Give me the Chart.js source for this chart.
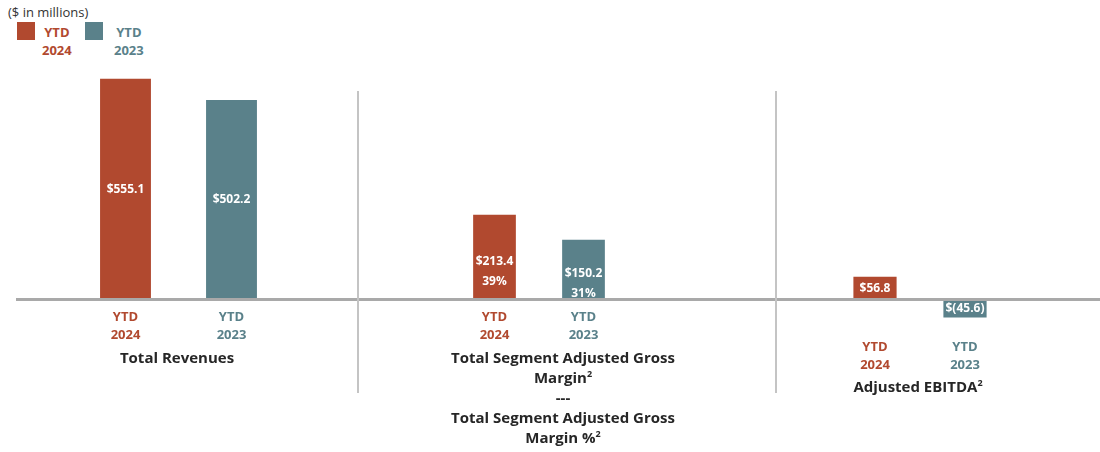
<!DOCTYPE html>
<html>
<head>
<meta charset="utf-8">
<script src="https://cdn.jsdelivr.net/npm/chart.js@4.4.1/dist/chart.umd.min.js"></script>
<style>
  body { margin: 0; background: #fff; font-family: "Open Sans", sans-serif; }
  #wrap { position: relative; width: 1100px; height: 452px; overflow: hidden; }
  .panel { position: absolute; top: 0; height: 452px; }
  .title { position: absolute; color: #262626; font-weight: bold; font-size: 15px; line-height: 20px; text-align: center; white-space: nowrap; transform: translateX(-50%); }
  .title sup { font-size: 9px; vertical-align: 6px; line-height: 0; }
  #units { position: absolute; left: 8px; top: 3px; font-size: 13px; color: #333; }
  .key { position: absolute; top: 22px; width: 18px; height: 18px; }
  .keytext { position: absolute; top: 23px; font-size: 13px; font-weight: bold; line-height: 18px; text-align: center; }
</style>
</head>
<body>
<div id="wrap">
  <div id="units">($ in millions)</div>
  <div class="key" style="left:17px;background:#b1492f"></div>
  <div class="keytext" style="left:42px;color:#b1492f">YTD<br>2024</div>
  <div class="key" style="left:85px;background:#5a818a"></div>
  <div class="keytext" style="left:114px;color:#5a818a">YTD<br>2023</div>

  <div class="panel" style="left:0;width:357px"><canvas id="c1" width="357" height="452"></canvas></div>
  <div class="panel" style="left:357px;width:418px"><canvas id="c2" width="418" height="452"></canvas></div>
  <div class="panel" style="left:775px;width:325px"><canvas id="c3" width="325" height="452"></canvas></div>

  <div class="title" style="left:177px;top:347px">Total Revenues</div>
  <div class="title" style="left:563px;top:347px">Total Segment Adjusted Gross<br>Margin<sup>2</sup><br>---<br>Total Segment Adjusted Gross<br>Margin %<sup>2</sup></div>
  <div class="title" style="left:918px;top:376px">Adjusted EBITDA<sup>2</sup></div>
</div>
<script>
const categories = [['YTD', '2024'], ['YTD', '2023']];
const colors = ['#b1492f', '#5a818a'];
const revenues = [555.1, 502.2];
const grossMargin = [213.4, 150.2];
const marginPct = [39, 31];
const ebitda = [56.8, -45.6];

const money = v => v < 0 ? '$(' + Math.abs(v).toFixed(1) + ')' : '$' + v.toFixed(1);

// zero line, separator and labels inside the bars
const panelDeco = {
  id: 'panelDeco',
  afterDatasetsDraw(chart, args, opts) {
    const ctx = chart.ctx;
    const y0 = chart.scales.y.getPixelForValue(0);
    ctx.save();
    ctx.strokeStyle = '#a9a9a9';
    ctx.lineWidth = 3;
    ctx.beginPath();
    ctx.moveTo(opts.lineStart || 0, y0);
    ctx.lineTo(chart.width, y0);
    ctx.stroke();
    if (opts.separator) {
      ctx.strokeStyle = '#c4c4c4';
      ctx.lineWidth = 2;
      ctx.beginPath();
      ctx.moveTo(1, 91);
      ctx.lineTo(1, 393);
      ctx.stroke();
    }
    const meta = chart.getDatasetMeta(0);
    ctx.fillStyle = '#fff';
    ctx.font = 'bold 12px "Open Sans"';
    ctx.textAlign = 'center';
    ctx.textBaseline = 'middle';
    meta.data.forEach((bar, i) => {
      const lines = opts.labels(i);
      const mid = (bar.y + bar.base) / 2 + (opts.shift || 0);
      const lh = opts.lineGap || 20;
      lines.forEach((t, j) => {
        ctx.fillText(t, bar.x, mid + (j - (lines.length - 1) / 2) * lh);
      });
    });
    ctx.restore();
  }
};

function makePanel(id, values, pad, yMin, deco) {
  new Chart(document.getElementById(id), {
    type: 'bar',
    data: {
      labels: categories,
      datasets: [{
        data: values,
        backgroundColor: colors,
        barPercentage: 0.48,
        categoryPercentage: 1
      }]
    },
    plugins: [panelDeco],
    options: {
      responsive: false,
      animation: false,
      layout: { padding: pad },
      plugins: {
        legend: { display: false },
        tooltip: { enabled: false },
        panelDeco: deco
      },
      scales: {
        x: {
          grid: { display: false, drawTicks: false },
          border: { display: false },
          ticks: {
            color: ctx => colors[ctx.index],
            font: { family: 'Open Sans', size: 13, weight: 'bold', lineHeight: 1.35 },
            padding: 9,
            maxRotation: 0
          },
          afterFit: s => { s.height = 50; }
        },
        y: {
          display: false,
          min: yMin,
          max: 600
        }
      }
    }
  });
}

makePanel('c1', revenues, { top: 61, bottom: 102.5, left: 72.5, right: 72.5 }, 0,
  { lineStart: 16, labels: i => [money(revenues[i])] });
makePanel('c2', grossMargin, { top: 61, bottom: 102.5, left: 93, right: 147 }, 0,
  { separator: true, shift: 14, lineGap: 20, labels: i => [money(grossMargin[i]), marginPct[i] + '%'] });
makePanel('c3', ebitda, { top: 61, bottom: 72, left: 55, right: 90 }, -77,
  { separator: true, labels: i => [money(ebitda[i])] });
</script>
</body>
</html>
